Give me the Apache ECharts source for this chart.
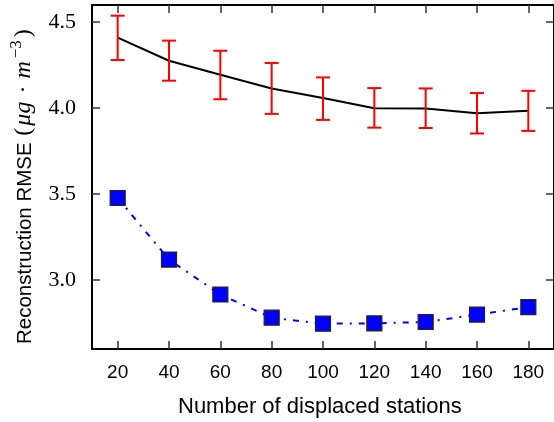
<!DOCTYPE html>
<html><head><meta charset="utf-8">
<script src="https://cdn.jsdelivr.net/npm/echarts@6/dist/echarts.min.js"></script>
<style>html,body{margin:0;padding:0;background:#fff}#c{width:554px;height:422px}</style>
</head><body><div id="c"></div>
<script>
const categories = ['20','40','60','80','100','120','140','160','180'];
const meanRmse = [4.41, 4.276, 4.194, 4.115, 4.059, 4.0, 3.998, 3.971, 3.985];
const errLow  = [4.28, 4.16, 4.052, 3.967, 3.932, 3.887, 3.885, 3.853, 3.868];
const errHigh = [4.538, 4.393, 4.334, 4.263, 4.179, 4.117, 4.115, 4.088, 4.101];
const displacedRmse = [3.478, 3.12, 2.917, 2.782, 2.747, 2.749, 2.757, 2.80, 2.843];
const yTicks = [3.0, 3.5, 4.0, 4.5];

const chart = echarts.init(document.getElementById('c'), null, {renderer:'canvas'});
const axLine = {show:true, lineStyle:{color:'#000', width:2}};
const tick = {show:true, inside:true, length:8, lineStyle:{color:'#333', width:1.5}};
const errData = categories.map((c,i)=>[i, errLow[i], errHigh[i]]);
chart.setOption({
  animation:false,
  grid:{left:92, right:-1, top:5, bottom:73, containLabel:false},
  xAxis:[{type:'category', data:categories, boundaryGap:true, position:'bottom',
    axisLine:axLine, axisTick:Object.assign({alignWithLabel:true}, tick),
    axisLabel:{margin:14, fontFamily:'Liberation Sans', fontSize:19, color:'#000'},
    splitLine:{show:false}},
   {type:'category', data:categories, boundaryGap:true, position:'top',
    axisLine:axLine, axisTick:Object.assign({alignWithLabel:true}, tick),
    axisLabel:{show:false}, splitLine:{show:false}}],
  yAxis:[{type:'value', min:2.6, max:4.6, position:'left',
    axisLine:axLine, axisTick:Object.assign({customValues:yTicks}, tick),
    axisLabel:{customValues:yTicks, formatter:v=>v.toFixed(1), margin:16, fontFamily:'Liberation Serif', fontSize:22, color:'#000'},
    splitLine:{show:false}},
   {type:'value', min:2.6, max:4.6, position:'right',
    axisLine:axLine, axisTick:Object.assign({customValues:yTicks}, tick),
    axisLabel:{show:false}, splitLine:{show:false}}],
  graphic:[
    {type:'text', left:178, top:396, style:{text:'Number of displaced stations', font:'22px "Liberation Sans"', fill:'#000'}},
    {type:'text', x:8, y:344, rotation:Math.PI/2, style:{
      text:'{s|Reconstruction RMSE }{m|(}{i|μg}{d|·}{i|m}{p|−3}{m|)}',
      fill:'#000',
      rich:{
        s:{fontFamily:'Liberation Sans', fontSize:20.5, lineHeight:28, verticalAlign:'bottom'},
        m:{fontFamily:'Liberation Serif', fontSize:24, lineHeight:28, verticalAlign:'bottom', padding:[0,1,0,1]},
        d:{fontFamily:'Liberation Serif', fontSize:24, lineHeight:28, verticalAlign:'bottom', padding:[0,6,0,6]},
        i:{fontFamily:'Liberation Serif', fontStyle:'italic', fontSize:24, lineHeight:28, verticalAlign:'bottom', padding:[0,2,0,1]},
        p:{fontFamily:'Liberation Serif', fontSize:17, lineHeight:28, verticalAlign:'top', padding:[0,2,0,1]}
      }}}
  ],
  series:[
    {type:'line', data:meanRmse, symbol:'none', lineStyle:{color:'#000', width:2}, z:2},
    {type:'custom', data:errData, z:3,
      renderItem:function(params, api){
        const x = api.value(0);
        const lo = api.coord([x, api.value(1)]);
        const hi = api.coord([x, api.value(2)]);
        const w = 7;
        const st = {stroke:'#ff0000', lineWidth:2};
        return {type:'group', children:[
          {type:'line', shape:{x1:lo[0], y1:lo[1], x2:hi[0], y2:hi[1]}, style:st},
          {type:'line', shape:{x1:lo[0]-w, y1:lo[1], x2:lo[0]+w, y2:lo[1]}, style:st},
          {type:'line', shape:{x1:hi[0]-w, y1:hi[1], x2:hi[0]+w, y2:hi[1]}, style:st}
        ]};
      }},
    {type:'line', data:displacedRmse, symbol:'rect', symbolSize:15,
      lineStyle:{color:'#0000ff', width:2, type:[6,7,2,7]},
      itemStyle:{color:'#0000ff', borderColor:'#222', borderWidth:1.2}, z:4}
  ]
});
</script></body></html>
